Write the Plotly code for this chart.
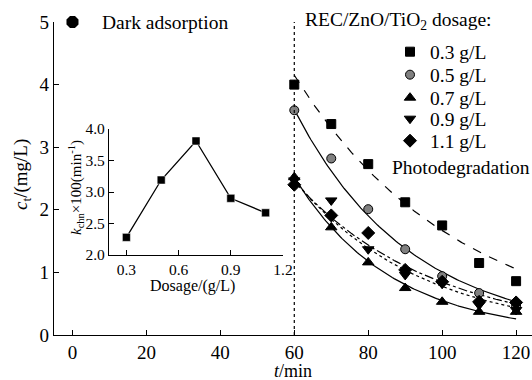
import numpy as np
import plotly.graph_objects as go

# ---------------- data ----------------
time_min = [60, 70, 80, 90, 100, 110, 120]
dosage_labels = ["0.3 g/L", "0.5 g/L", "0.7 g/L", "0.9 g/L", "1.1 g/L"]
c_03 = [4.00, 3.37, 2.73, 2.12, 1.75, 1.15, 0.86]
c_05 = [3.59, 2.82, 2.01, 1.37, 0.94, 0.67, 0.46]
c_07 = [2.52, 1.72, 1.16, 0.75, 0.53, 0.37, 0.37]
c_09 = [2.47, 2.15, 1.37, 0.96, 0.82, 0.48, 0.40]
c_11 = [2.40, 1.91, 1.63, 1.04, 0.85, 0.53, 0.52]
dark_t = [0]
dark_c = [5.0]

# inset: rate constant vs dosage
dosage = [0.3, 0.5, 0.7, 0.9, 1.1]
k_chn100 = [2.28, 3.19, 3.81, 2.90, 2.67]
fit_c0 = [4.15, 3.60, 2.52, 2.47, 2.45]

x_ticks = [0, 20, 40, 60, 80, 100, 120]
y_ticks = [0, 1, 2, 3, 4, 5]
inset_x_ticks = [0.3, 0.6, 0.9, 1.2]
inset_y_ticks = [2.0, 2.5, 3.0, 3.5, 4.0]

# ---------------- style ----------------
FONT = "Liberation Serif"
symbols = ["square", "circle", "triangle-up", "triangle-down", "diamond"]
fills = ["black", "#808080", "black", "black", "black"]
sizes = [9, 9, 10, 10, 10]
dashes = ["dash", "solid", "solid", "dot", "dashdot"]
series = [c_03, c_05, c_07, c_09, c_11]

fig = go.Figure()

# fitted first-order decay curves
t_fit = np.linspace(60, 120, 121)
for i in range(5):
    c_fit = fit_c0[i] * np.exp(-k_chn100[i] / 100.0 * (t_fit - 60))
    fig.add_trace(go.Scatter(x=t_fit, y=c_fit, mode="lines",
                             line=dict(color="black", width=1.2, dash=dashes[i]),
                             showlegend=False, hoverinfo="skip"))

# data markers, each in its own legend
legend_rows_px = [52, 75, 98, 119, 141]
for i in range(5):
    lg = "legend" if i == 0 else f"legend{i+1}"
    fig.add_trace(go.Scatter(x=time_min, y=series[i], mode="markers", name=dosage_labels[i],
                             marker=dict(symbol=symbols[i], size=sizes[i], color=fills[i],
                                         line=dict(color="black", width=1)),
                             cliponaxis=False, legend=lg))

# dark adsorption marker
fig.add_trace(go.Scatter(x=dark_t, y=dark_c, mode="markers", showlegend=False,
                         cliponaxis=False,
                         marker=dict(symbol="octagon", size=13, color="black")))

# inset
fig.add_trace(go.Scatter(x=dosage, y=k_chn100, mode="lines+markers", xaxis="x2", yaxis="y2",
                         showlegend=False,
                         line=dict(color="black", width=1.3),
                         marker=dict(symbol="square", size=8, color="black",
                                     line=dict(color="white", width=0.5))))

W, H = 532, 380
L, R, T, B = 54, 0, 22, 45
pw, ph = W - L - R, H - T - B


def px(xp):
    return (xp - L) / pw


def py(yp):
    return (H - B - yp) / ph


layout_legends = {}
for i, ypx in enumerate(legend_rows_px):
    key = "legend" if i == 0 else f"legend{i+1}"
    layout_legends[key] = dict(x=px(390), y=py(ypx), xanchor="left", yanchor="middle",
                               bgcolor="rgba(0,0,0,0)", borderwidth=0,
                               font=dict(family=FONT, size=19.5, color="black"),
                               itemwidth=30)

axis_common = dict(showgrid=False, zeroline=False, showline=True, linecolor="black",
                   linewidth=1.3, ticks="inside", tickcolor="black", ticklen=5,
                   tickwidth=1.3, mirror=False)

fig.update_layout(
    width=W, height=H,
    margin=dict(l=L, r=R, t=T, b=B, autoexpand=False),
    paper_bgcolor="white", plot_bgcolor="rgba(0,0,0,0)",
    font=dict(family=FONT, color="black", size=19),
    xaxis=dict(range=[-5, 124.3], tickvals=x_ticks, tickfont=dict(size=19),
               **axis_common),
    yaxis=dict(range=[0, 5], tickvals=y_ticks, tickfont=dict(size=19), **axis_common),
    xaxis2=dict(domain=[px(109), px(283)], range=[0.2, 1.2], anchor="y2",
                tickvals=inset_x_ticks, ticktext=["0.3", "0.6", "0.9", "1.2"],
                tickfont=dict(size=15.5), **axis_common),
    yaxis2=dict(domain=[py(255), py(129)], range=[2.0, 4.0], anchor="x2",
                tickvals=inset_y_ticks, ticktext=["2.0", "2.5", "3.0", "3.5", "4.0"],
                tickfont=dict(size=15.5), **axis_common),
    **layout_legends,
)

# vertical dotted separator at t = 60
fig.add_shape(type="line", x0=60, x1=60, y0=0, y1=5.03, xref="x", yref="y",
              line=dict(color="black", width=1.2, dash="dot"))

ann = [
    dict(text="Dark adsorption", x=px(100), y=py(22), xanchor="left",
         yanchor="middle", font=dict(size=19.5)),
    dict(text="REC/ZnO/TiO<sub>2</sub> dosage:", x=px(303), y=py(21),
         xanchor="left", yanchor="middle", font=dict(size=19.5)),
    dict(text="Photodegradation", x=px(390), y=py(167), xanchor="left",
         yanchor="middle", font=dict(size=19.5)),
    dict(text="<i>t</i>/min", x=px(292.5), y=py(370.5),
         xanchor="center", yanchor="middle", font=dict(size=18)),
    dict(text="<i>c</i><sub>t</sub>/(mg/L)", x=px(22), y=py(175),
         xanchor="center", yanchor="middle", textangle=-90, font=dict(size=19)),
    dict(text="<i>k</i><sub>chn</sub>×100(min<sup>-1</sup>)", x=px(76), y=py(188),
         xanchor="center", yanchor="middle", textangle=-90, font=dict(size=15)),
    dict(text="Dosage/(g/L)", x=px(192), y=py(286),
         xanchor="center", yanchor="middle", font=dict(size=16)),
]
for a in ann:
    a["showarrow"] = False
    a["xref"] = "paper"
    a["yref"] = "paper"
    a["font"]["family"] = FONT
    a["font"]["color"] = "black"
    fig.add_annotation(**a)

fig.write_html("out.html", config={"displayModeBar": False},
               post_script="document.body.style.margin='0';")
